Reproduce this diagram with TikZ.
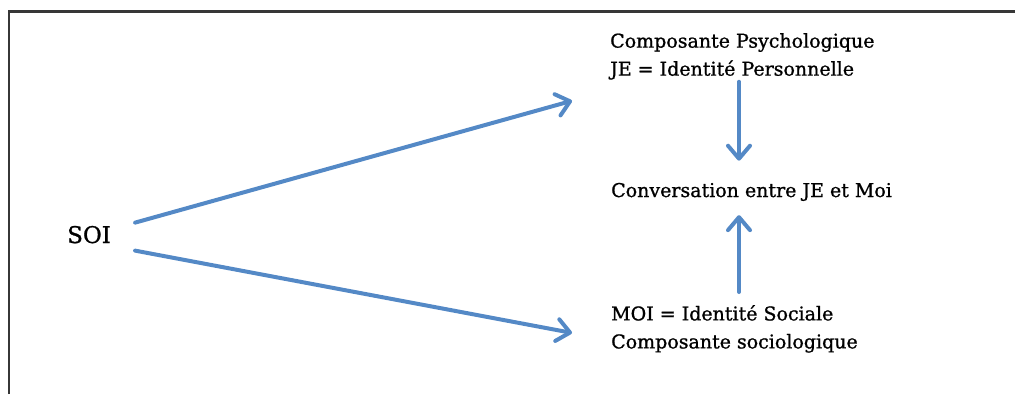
\documentclass[tikz,border=0pt]{standalone}
\usepackage{fontspec}
\setmainfont{DejaVu Serif}[FakeBold=1]
\usetikzlibrary{arrows.meta}

\definecolor{bleuFleche}{RGB}{84,137,198}
\definecolor{grisCadre}{RGB}{55,55,55}

\tikzset{
  texte/.style={inner sep=0pt, align=left, font=\fontsize{19}{28}\selectfont},
  lien/.style={draw=bleuFleche, line width=4pt, line cap=round,
    -{Straight Barb[length=13pt,width=22pt,line cap=round,line join=round]}},
}

\begin{document}
\begin{tikzpicture}[x=1pt,y=-1pt]
  \useasboundingbox (0,0) rectangle (1015,394);

  % cadre (haut et gauche seulement)
  \draw[grisCadre, line width=2.2pt] (9,394) -- (9,11.5) -- (1015,11.5);

  \node[texte, anchor=base west, font=\fontsize{23}{28}\selectfont] (soi) at (67,243) {SOI};
  \node[texte, anchor=north west] (psy) at (610,33)
    {Composante Psychologique\\JE = Identité Personnelle};
  \node[texte, anchor=base west] (conv) at (611,197) {Conversation entre JE et Moi};
  \node[texte, anchor=north west] (soc) at (611,305)
    {MOI = Identité Sociale\\Composante sociologique};

  \draw[lien] ([shift={(24,-12)}]soi.east) -- ([shift={(-38,21)}]psy.south west);
  \draw[lien] ([shift={(24,16)}]soi.east) -- ([shift={(-39,4)}]soc.west);
  \draw[lien] ([shift={(129,2)}]psy.south west) -- ([shift={(128,-22)}]conv.north west);
  \draw[lien] ([shift={(128,-13)}]soc.north west) -- ([shift={(128,14)}]conv.south west);

\end{tikzpicture}
\end{document}
